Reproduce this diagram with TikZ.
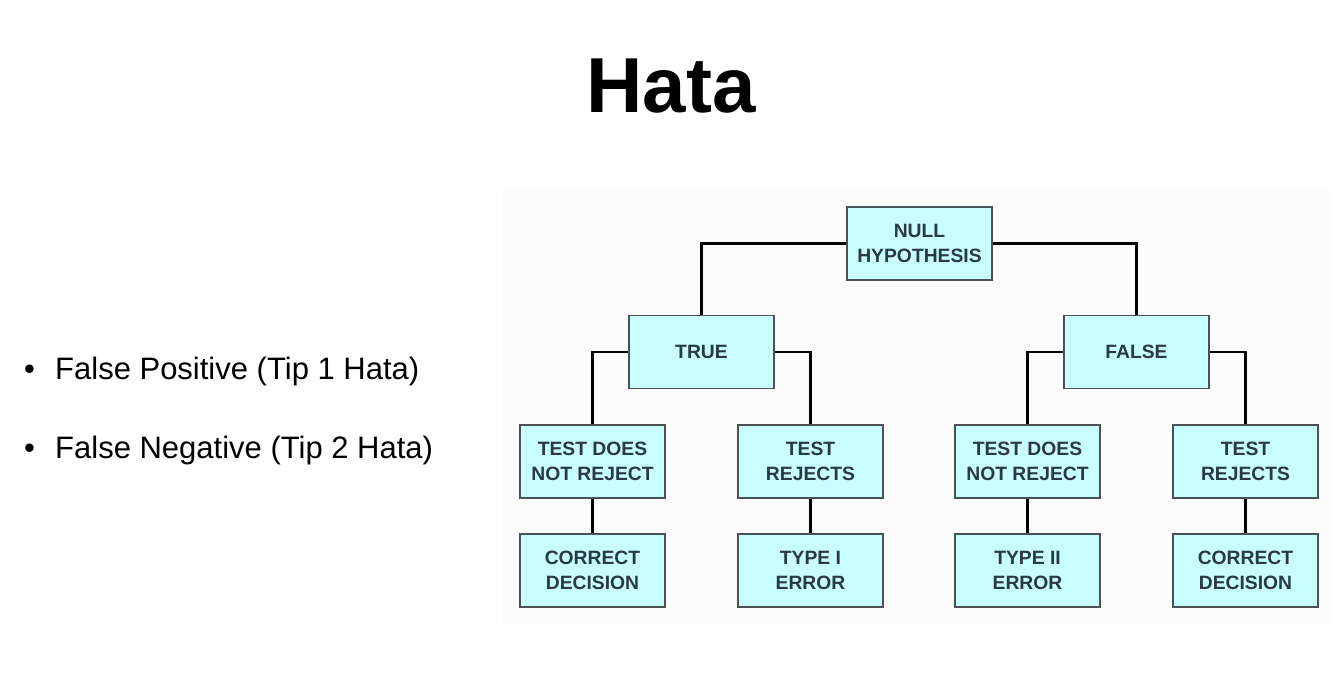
\documentclass[tikz,border=0pt]{standalone}
\usepackage{fontspec}
\setmainfont{Liberation Sans}
\definecolor{boxfill}{HTML}{C8FEFE}
\definecolor{boxline}{HTML}{4A5256}
\definecolor{boxtext}{HTML}{2A3A42}
\definecolor{panel}{HTML}{FCFCFC}
\begin{document}
\begin{tikzpicture}[x=1pt,y=-1pt,
  decision/.style={draw=boxline, line width=1.6pt, fill=boxfill,
    minimum width=145pt, minimum height=73pt, inner sep=0pt,
    align=center, text=boxtext,
    font=\fontsize{19.3}{25}\selectfont\bfseries},
  link/.style={draw=black, line width=2.4pt},
  bullettext/.style={anchor=base west, inner sep=0pt,
    font=\fontsize{31}{36}\selectfont}]
  \useasboundingbox (0,0) rectangle (1342,684);
  \fill[white] (0,0) rectangle (1342,684);
  % light panel behind the tree
  \fill[panel] (503,190) rectangle (1330,625);

  % title
  \node[anchor=base, inner sep=0pt, font=\fontsize{78}{90}\selectfont\bfseries] (title) at (671,113) {Hata};

  % bullet list
  \node[bullettext] (b1) at (24,380) {•};
  \node[bullettext] (t1) at (55,380) {False Positive (Tip 1 Hata)};
  \node[bullettext] (b2) at (24,459) {•};
  \node[bullettext] (t2) at (55,459) {False Negative (Tip 2 Hata)};

  % decision tree
  \node[decision] (root) at (919.5,243.5) {NULL\\HYPOTHESIS};
  \node[decision] (true) at (701.5,352) {TRUE};
  \node[decision] (false) at (1136.5,352) {FALSE};
  \node[decision] (tn) at (592.5,461.5) {TEST DOES\\NOT REJECT};
  \node[decision] (tr) at (810.5,461.5) {TEST\\REJECTS};
  \node[decision] (fn) at (1027.5,461.5) {TEST DOES\\NOT REJECT};
  \node[decision] (fr) at (1245.5,461.5) {TEST\\REJECTS};
  \node[decision] (c1) at (592.5,570.5) {CORRECT\\DECISION};
  \node[decision] (e1) at (810.5,570.5) {TYPE I\\ERROR};
  \node[decision] (e2) at (1027.5,570.5) {TYPE II\\ERROR};
  \node[decision] (c2) at (1245.5,570.5) {CORRECT\\DECISION};

  \draw[link] (root.west) -| (true.north);
  \draw[link] (root.east) -| (false.north);
  \draw[link] (true.west) -| (tn.north);
  \draw[link] (true.east) -| (tr.north);
  \draw[link] (false.west) -| (fn.north);
  \draw[link] (false.east) -| (fr.north);
  \draw[link] (tn) -- (c1);
  \draw[link] (tr) -- (e1);
  \draw[link] (fn) -- (e2);
  \draw[link] (fr) -- (c2);
\end{tikzpicture}
\end{document}
